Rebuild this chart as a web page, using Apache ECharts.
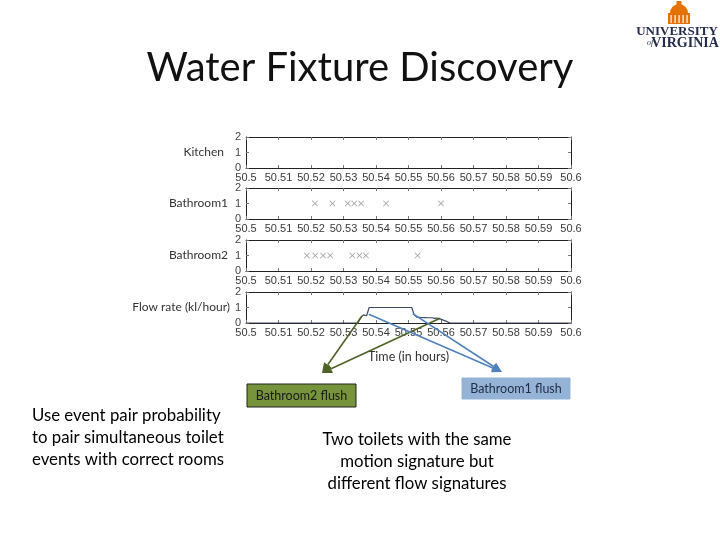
<!DOCTYPE html>
<html><head><meta charset="utf-8">
<script src="https://cdn.jsdelivr.net/npm/echarts@6/dist/echarts.min.js"></script>
<style>html,body{margin:0;padding:0;background:#fff}#c{width:720px;height:540px}</style>
</head><body><div id="c"></div>
<script>
// ---------------- data ----------------
const xTicks = [50.5, 50.51, 50.52, 50.53, 50.54, 50.55, 50.56, 50.57, 50.58, 50.59, 50.6];
const yTicks = [0, 1, 2];
const panelNames = ['Kitchen', 'Bathroom1', 'Bathroom2', 'Flow rate (kl/hour)'];
const kitchenEvents = [];
const bathroom1Events = [50.5212, 50.5266, 50.5313, 50.5333, 50.5354, 50.5431, 50.5600];
const bathroom2Events = [50.5187, 50.5213, 50.5237, 50.5259, 50.5327, 50.5349, 50.5369, 50.5528];
const eventLevel = 1;
const flowTime = [50.5, 50.5345, 50.5351, 50.5361, 50.5366, 50.5371, 50.5376, 50.5379, 50.5510, 50.5517,
  50.5525, 50.5531, 50.5537, 50.5543, 50.5549, 50.5555, 50.5561, 50.5567, 50.5573, 50.5580, 50.5587,
  50.5595, 50.5605, 50.5615, 50.5628, 50.6];
const flowRate = [0, 0, 0.3, 0.52, 0.4, 0.47, 0.55, 1.0, 1.0, 0.55,
  0.38, 0.28, 0.36, 0.27, 0.35, 0.26, 0.34, 0.27, 0.34, 0.3, 0.32,
  0.28, 0.2, 0.12, 0, 0];
const xAxisTitle = 'Time (in hours)';
const titleText = 'Water Fixture Discovery';
const leftNote = 'Use event pair probability\nto pair simultaneous toilet\nevents with correct rooms';
const centerNote = 'Two toilets with the same\nmotion signature but\ndifferent flow signatures';
const bath2Label = 'Bathroom2 flush';
const bath1Label = 'Bathroom1 flush';
// arrow start points on the flow-rate panel (data coords)
const bath2ArrowFrom = [[50.5357, 0.45], [50.5597, 0.3]];
const bath1ArrowFrom = [[50.5378, 0.56], [50.5513, 0.6]];

// ---------------- chart ----------------
const chart = echarts.init(document.getElementById('c'), null, {renderer: 'canvas'});
const tops = [137, 188, 240, 292];
const nameGaps = [22, 18, 18, 14];
const fmt = v => { const t = xTicks.find(k => Math.abs(k - v) < 1e-6); return t === undefined ? '' : String(t); };
const grids = tops.map(t => ({left: 246, width: 325, top: t, height: 31, show: true, borderWidth: 0, backgroundColor: '#fff'}));
const xAxes = [], yAxes = [];
for (let i = 0; i < 4; i++) {
  xAxes.push({type: 'value', gridIndex: i, min: xTicks[0], max: xTicks[xTicks.length - 1], interval: 0.01,
    axisLine: {show: true, onZero: false, lineStyle: {color: '#222', width: 1}},
    axisTick: {show: true, inside: true, length: 3, lineStyle: {color: '#777'}},
    axisLabel: {color: '#3a3a3a', fontSize: 11, margin: 4, fontFamily: 'Liberation Sans', formatter: fmt},
    splitLine: {show: false},
    name: i === 3 ? xAxisTitle : '', nameLocation: 'middle', nameGap: 27,
    nameTextStyle: {fontFamily: 'Lato', fontSize: 12.5, color: '#333'}});
}
for (let i = 0; i < 4; i++) {
  xAxes.push({type: 'value', gridIndex: i, position: 'top', min: xTicks[0], max: xTicks[xTicks.length - 1], interval: 0.01,
    axisLine: {show: true, onZero: false, lineStyle: {color: '#222', width: 1}},
    axisTick: {show: true, inside: true, length: 3, lineStyle: {color: '#777'}},
    axisLabel: {show: false}, splitLine: {show: false}});
}
for (let i = 0; i < 4; i++) {
  yAxes.push({type: 'value', gridIndex: i, min: yTicks[0], max: yTicks[yTicks.length - 1], interval: 1,
    axisLine: {show: true, onZero: false, lineStyle: {color: '#222', width: 1}},
    axisTick: {show: true, inside: true, length: 3, lineStyle: {color: '#777'}},
    axisLabel: {color: '#444', fontSize: 11, margin: 5, fontFamily: 'Liberation Sans'},
    splitLine: {show: false},
    name: panelNames[i], nameLocation: 'middle', nameRotate: 0, nameGap: nameGaps[i],
    nameTextStyle: {fontFamily: 'Lato', fontSize: 12, color: '#333', align: 'right', verticalAlign: 'middle'}});
}
for (let i = 0; i < 4; i++) {
  yAxes.push({type: 'value', gridIndex: i, position: 'right', min: yTicks[0], max: yTicks[yTicks.length - 1], interval: 1,
    axisLine: {show: true, onZero: false, lineStyle: {color: '#222', width: 1}},
    axisTick: {show: true, inside: true, length: 3, lineStyle: {color: '#777'}},
    axisLabel: {show: false}, splitLine: {show: false}});
}
const xMark = 'path://M0,1L1,0L5,4L9,0L10,1L6,5L10,9L9,10L5,6L1,10L0,9L4,5Z';
const evSeries = (arr, i) => ({type: 'scatter', xAxisIndex: i, yAxisIndex: i, symbol: xMark, symbolSize: 6,
  itemStyle: {color: '#8a8a8a'}, data: arr.map(x => [x, eventLevel]), silent: true});

chart.setOption({
  animation: false,
  backgroundColor: '#fff',
  grid: grids, xAxis: xAxes, yAxis: yAxes,
  series: [
    evSeries(kitchenEvents, 0),
    evSeries(bathroom1Events, 1),
    evSeries(bathroom2Events, 2),
    {type: 'line', xAxisIndex: 3, yAxisIndex: 3, showSymbol: false, symbol: 'none',
      lineStyle: {color: '#3e4b62', width: 1.2}, data: flowTime.map((t, k) => [t, flowRate[k]])}
  ]
});

// ---------------- annotations ----------------
function arrow(from, to, color) {
  const p = chart.convertToPixel({xAxisIndex: 3, yAxisIndex: 3}, from);
  const dx = to[0] - p[0], dy = to[1] - p[1];
  const L = Math.hypot(dx, dy), ux = dx / L, uy = dy / L;
  const hl = 10, hw = 4.5;
  const bx = to[0] - ux * hl, by = to[1] - uy * hl;
  return [
    {type: 'line', shape: {x1: p[0], y1: p[1], x2: bx, y2: by}, style: {stroke: color, lineWidth: 1.6}, z: 100},
    {type: 'polygon', shape: {points: [[to[0], to[1]], [bx - uy * hw, by + ux * hw], [bx + uy * hw, by - ux * hw]]},
      style: {fill: color}, z: 100}
  ];
}
const g = [];
g.push({type: 'text', x: 360, y: 68, style: {text: titleText, font: '40px Lato', fill: '#111', align: 'center', verticalAlign: 'middle'}});
g.push({type: 'text', x: 32, y: 438, style: {text: leftNote, font: '16.8px Lato', fill: '#000', align: 'left', verticalAlign: 'middle', lineHeight: 22}});
g.push({type: 'text', x: 417, y: 462, style: {text: centerNote, font: '16.8px Lato', fill: '#000', align: 'center', verticalAlign: 'middle', lineHeight: 22}});
bath2ArrowFrom.forEach(f => g.push(...arrow(f, [322, 373], '#4f6228')));
bath1ArrowFrom.forEach(f => g.push(...arrow(f, [502, 372], '#4f81bd')));
g.push({type: 'rect', shape: {x: 247, y: 384, width: 109, height: 23}, style: {fill: '#77933c', stroke: '#222', lineWidth: 1}, z: 90});
g.push({type: 'text', x: 301.5, y: 396, style: {text: bath2Label, font: '12.5px Lato', fill: '#1a1a1a', align: 'center', verticalAlign: 'middle'}, z: 91});
g.push({type: 'rect', shape: {x: 462, y: 378, width: 108, height: 21}, style: {fill: '#95b3d7', stroke: '#95b3d7', lineWidth: 1}, z: 90});
g.push({type: 'text', x: 516, y: 389, style: {text: bath1Label, font: '12.5px Lato', fill: '#1f2d44', align: 'center', verticalAlign: 'middle'}, z: 91});
// logo
const orange = '#e57200', navy = '#232d4b';
g.push({type: 'rect', shape: {x: 668, y: 13, width: 22, height: 11}, style: {fill: orange}});
g.push({type: 'sector', shape: {cx: 679, cy: 13, r0: 0, r: 9, startAngle: Math.PI, endAngle: 2 * Math.PI}, style: {fill: orange}});
g.push({type: 'rect', shape: {x: 676.5, y: 1, width: 5, height: 4}, style: {fill: orange}});
for (let k = 0; k < 5; k++) g.push({type: 'rect', shape: {x: 670.5 + k * 4, y: 15, width: 1.2, height: 8}, style: {fill: '#fff'}});
g.push({type: 'text', x: 677, y: 32, style: {text: 'UNIVERSITY', font: 'bold 13px "Liberation Serif"', fill: navy, align: 'center', verticalAlign: 'middle'}});
g.push({type: 'text', x: 647, y: 43, style: {text: 'of', font: 'italic 8px "Liberation Serif"', fill: navy, align: 'left', verticalAlign: 'middle'}});
g.push({type: 'text', x: 685, y: 43, style: {text: 'VIRGINIA', font: 'bold 14px "Liberation Serif"', fill: navy, align: 'center', verticalAlign: 'middle'}});
chart.setOption({graphic: g});
</script></body></html>
